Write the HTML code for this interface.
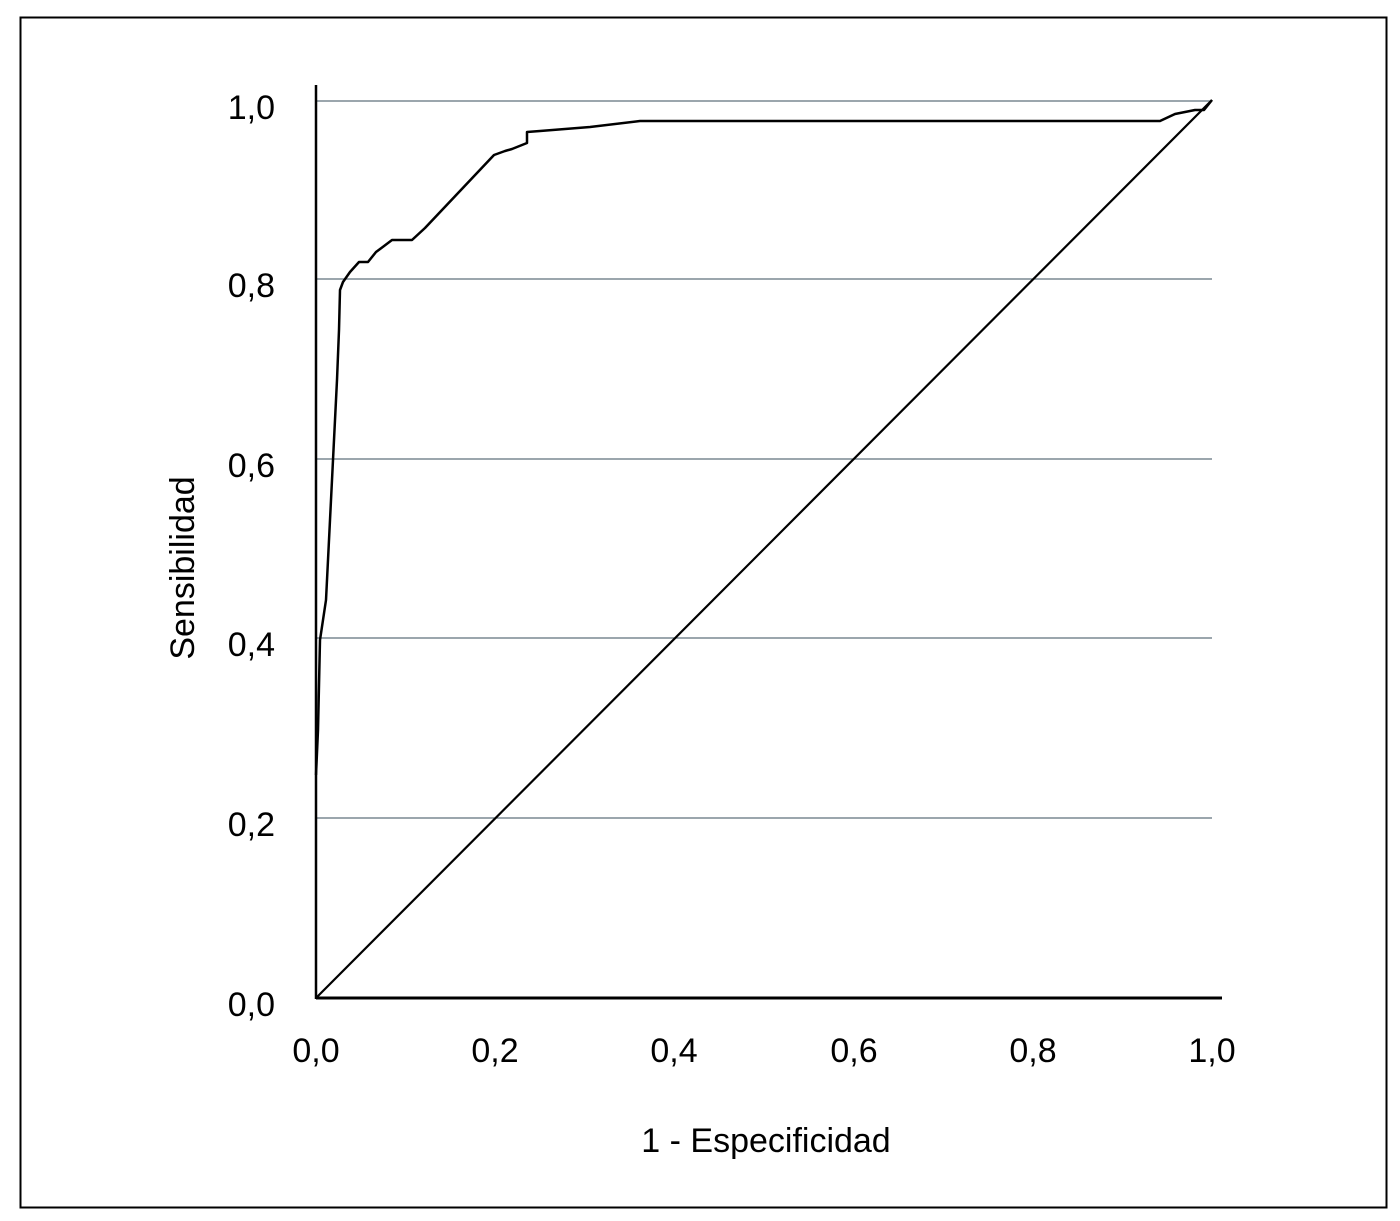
<!DOCTYPE html>
<html><head><style>body{margin:0;background:#fff}svg{display:block}</style></head><body>
<svg width="1400" height="1221" xmlns="http://www.w3.org/2000/svg" font-family="Liberation Sans, sans-serif">
<rect x="0" y="0" width="1400" height="1221" fill="#fff"/>
<rect x="20.5" y="17.5" width="1366" height="1190" fill="none" stroke="#000" stroke-width="2"/>
<g stroke="#5f707c" stroke-width="1.2">
<line x1="316" y1="101" x2="1212" y2="101"/>
<line x1="316" y1="279" x2="1212" y2="279"/>
<line x1="316" y1="459" x2="1212" y2="459"/>
<line x1="316" y1="638" x2="1212" y2="638"/>
<line x1="316" y1="818" x2="1212" y2="818"/>
</g>
<line x1="316" y1="85" x2="316" y2="999" stroke="#000" stroke-width="2.5"/>
<line x1="316" y1="998" x2="1222" y2="998" stroke="#000" stroke-width="3"/>
<line x1="316" y1="998" x2="1212" y2="100" stroke="#000" stroke-width="2.2"/>
<polyline fill="none" stroke="#000" stroke-width="2.5" stroke-linejoin="round" points="316,775 318,730 320,640 326,600 330,520 333,460 337,380 339,330 340,290 343,282 350,272 359,262 368,262 376,252 392,240 412,240 425,228 494,155 505,151 512,149 527,143 527,132 540,131 590,127 640,121 1160,121 1175,114 1195,110 1204,110 1212,100"/>
<g font-size="34" fill="#000">
<text x="275" y="119" text-anchor="end">1,0</text>
<text x="275" y="297" text-anchor="end">0,8</text>
<text x="275" y="477" text-anchor="end">0,6</text>
<text x="275" y="656" text-anchor="end">0,4</text>
<text x="275" y="836" text-anchor="end">0,2</text>
<text x="275" y="1016" text-anchor="end">0,0</text>
<text x="316" y="1062" text-anchor="middle">0,0</text>
<text x="495" y="1062" text-anchor="middle">0,2</text>
<text x="674" y="1062" text-anchor="middle">0,4</text>
<text x="854" y="1062" text-anchor="middle">0,6</text>
<text x="1033" y="1062" text-anchor="middle">0,8</text>
<text x="1212" y="1062" text-anchor="middle">1,0</text>
<text x="766" y="1152" text-anchor="middle">1 - Especificidad</text>
<text transform="translate(194,568) rotate(-90)" text-anchor="middle">Sensibilidad</text>
</g>
</svg>
</body></html>
